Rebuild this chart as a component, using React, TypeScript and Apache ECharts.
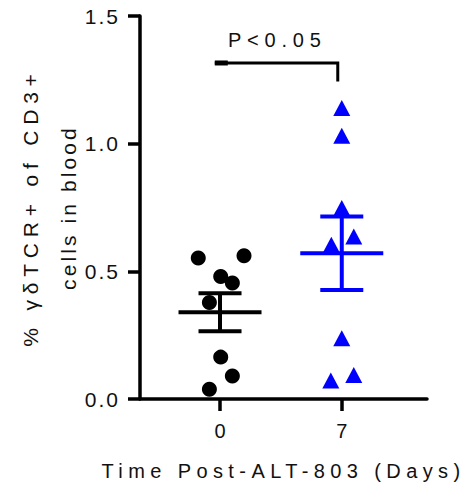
import React, { useEffect, useRef } from "react";
import * as echarts from "echarts";

const dayTicks = [0, 7];
const day0Values = [0.552, 0.561, 0.48, 0.454, 0.378, 0.164, 0.09, 0.038];
const day0Jitter = [-1.25, 1.38, 0.04, 0.71, -0.61, 0.04, 0.71, -0.61];
const day7Values = [1.14, 1.031, 0.748, 0.604, 0.636, 0.238, 0.072, 0.094];
const day7Jitter = [0, 0, 0, -0.6, 0.69, 0, -0.63, 0.69];
const yTicks = [0, 0.5, 1.0, 1.5];
const bracketX = [-0.3, 6.77];
const bracketY = [1.316, 1.243];
const pLabel = "P<0.05";
const yTitle = "% γδTCR+ of CD3+\ncells in blood";
const xTitle = "Time Post-ALT-803 (Days)";

const FONT = "'Liberation Sans', Arial, sans-serif";

function meanSem(v: number[]) {
  const n = v.length;
  const m = v.reduce((a, b) => a + b, 0) / n;
  const sd = Math.sqrt(v.reduce((a, b) => a + (b - m) * (b - m), 0) / (n - 1));
  return [m, sd / Math.sqrt(n)];
}

export default function App() {
  const ref = useRef<HTMLDivElement>(null);
  useEffect(() => {
    if (!ref.current) return;
    const chart = echarts.init(ref.current, null, { renderer: "svg" });
    const [m0, s0] = meanSem(day0Values);
    const [m7, s7] = meanSem(day7Values);
    const groupColors = ["#000000", "#0000ff"];
    const summary = [
      [dayTicks[0], m0, s0],
      [dayTicks[1], m7, s7],
    ];
    chart.setOption({
      animation: false,
      grid: { left: 140, right: 42, top: 16, bottom: 90, containLabel: false, outerBoundsMode: "none" },
      xAxis: {
        type: "value",
        min: -4.6,
        max: 11.9,
        name: xTitle,
        nameLocation: "middle",
        nameGap: 62,
        nameMoveOverlap: false,
        nameTextStyle: { fontFamily: FONT, fontSize: 20, color: "#111" },
        axisLine: { onZero: false, lineStyle: { color: "#000", width: 3.5 } },
        axisTick: { customValues: dayTicks, length: 12, lineStyle: { color: "#000", width: 3.5 } },
        axisLabel: {
          customValues: dayTicks,
          margin: 22,
          fontFamily: FONT,
          fontSize: 20,
          color: "#111",
        },
        splitLine: { show: false },
      },
      yAxis: {
        type: "value",
        min: 0,
        max: 1.5,
        interval: 0.5,
        name: yTitle,
        nameLocation: "middle",
        nameRotate: 90,
        nameGap: 53,
        nameMoveOverlap: false,
        nameTextStyle: { fontFamily: FONT, fontSize: 21, color: "#111", lineHeight: 38 },
        axisLine: { show: true, onZero: false, lineStyle: { color: "#000", width: 3.5 } },
        axisTick: { show: true, length: 12, lineStyle: { color: "#000", width: 3.5 } },
        axisLabel: {
          margin: 20,
          fontFamily: FONT,
          fontSize: 21,
          color: "#111",
          formatter: (v: number) => (yTicks.includes(v) ? v.toFixed(1) : ""),
        },
        splitLine: { show: false },
      },
      series: [
        {
          type: "scatter",
          symbol: "circle",
          symbolSize: 15,
          itemStyle: { color: groupColors[0], opacity: 1 },
          data: day0Values.map((v, i) => [dayTicks[0] + day0Jitter[i], v]),
          z: 2,
        },
        {
          type: "scatter",
          symbol: "triangle",
          symbolSize: [17, 16],
          itemStyle: { color: groupColors[1], opacity: 1 },
          data: day7Values.map((v, i) => [dayTicks[1] + day7Jitter[i], v]),
          z: 2,
        },
        {
          type: "custom",
          z: 3,
          data: summary,
          renderItem: (params: any, api: any) => {
            const x = api.value(0);
            const m = api.value(1);
            const s = api.value(2);
            const c = api.coord([x, m]);
            const t = api.coord([x, m + s]);
            const b = api.coord([x, m - s]);
            const color = groupColors[params.dataIndex];
            const st = { stroke: color, lineWidth: 4 };
            return {
              type: "group",
              children: [
                { type: "line", shape: { x1: c[0] - 41.5, y1: c[1], x2: c[0] + 41.5, y2: c[1] }, style: st },
                { type: "line", shape: { x1: c[0], y1: t[1], x2: c[0], y2: b[1] }, style: st },
                { type: "line", shape: { x1: c[0] - 21.5, y1: t[1], x2: c[0] + 21.5, y2: t[1] }, style: st },
                { type: "line", shape: { x1: c[0] - 21.5, y1: b[1], x2: c[0] + 21.5, y2: b[1] }, style: st },
              ],
            };
          },
        },
        {
          type: "custom",
          z: 3,
          data: [[bracketX[0], bracketX[1], bracketY[0], bracketY[1]]],
          renderItem: (params: any, api: any) => {
            const p1 = api.coord([api.value(0), api.value(2)]);
            const p2 = api.coord([api.value(1), api.value(2)]);
            const p3 = api.coord([api.value(1), api.value(3)]);
            return {
              type: "group",
              children: [
                {
                  type: "polyline",
                  shape: { points: [p1, p2, p3] },
                  style: { stroke: "#000", lineWidth: 3, fill: null },
                },
                {
                  type: "line",
                  shape: { x1: p1[0], y1: p1[1], x2: p1[0] + 13, y2: p1[1] },
                  style: { stroke: "#000", lineWidth: 5 },
                },
                {
                  type: "text",
                  style: {
                    text: pLabel,
                    x: (p1[0] + p2[0]) / 2 + 1,
                    y: p1[1] - 23,
                    align: "center",
                    verticalAlign: "middle",
                    fontFamily: FONT,
                    fontSize: 20,
                    fill: "#111",
                  },
                },
              ],
            };
          },
        },
      ],
    });

    const spacing = () => {
      const el = ref.current;
      if (!el) return;
      el.querySelectorAll("text").forEach((t) => {
        const s = (t.textContent || "").trim();
        let ls = 0;
        if (s === xTitle) ls = 5.4;
        else if (s === pLabel) ls = 5.8;
        else if (s.startsWith("%")) ls = 5.8;
        else if (s === "cells in blood") ls = 3.1;
        else if (/^\d\.\d$/.test(s)) ls = 2;
        if (ls) t.setAttribute("letter-spacing", String(ls));
      });
    };
    spacing();
    chart.on("finished", spacing);
    const timer = setTimeout(spacing, 50);
    return () => {
      clearTimeout(timer);
      chart.dispose();
    };
  }, []);
  return (
    <div
      ref={ref}
      style={{ position: "fixed", left: 0, top: 0, width: 469, height: 489, background: "#fff" }}
    />
  );
}
